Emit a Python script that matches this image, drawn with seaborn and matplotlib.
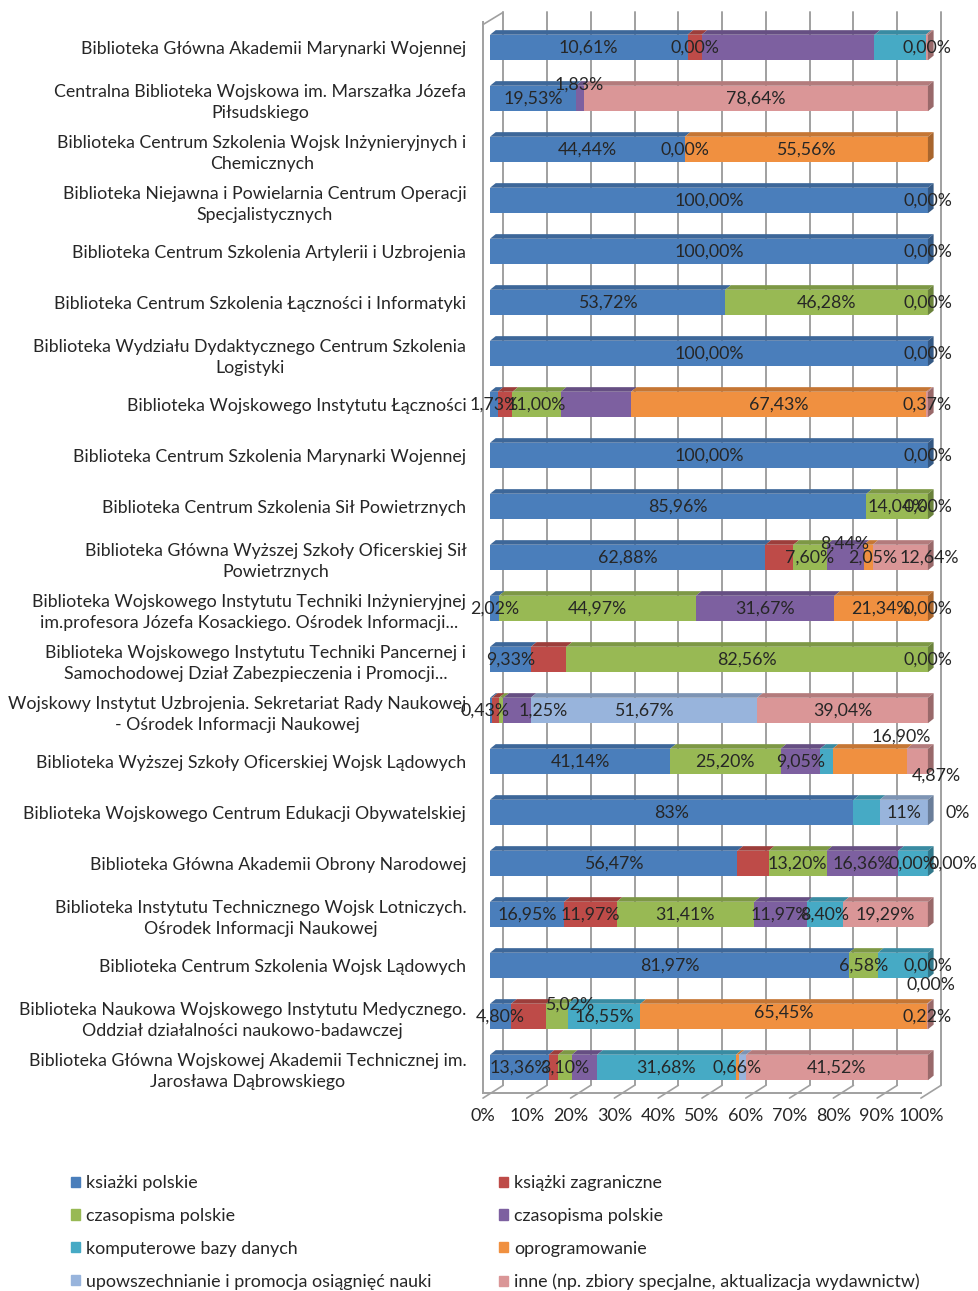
import numpy as np
import pandas as pd
import matplotlib.pyplot as plt
import matplotlib.colors as mcolors
from matplotlib.patches import Polygon, Patch
import seaborn as sns

categories = [
    "Biblioteka Główna Akademii Marynarki Wojennej",
    "Centralna Biblioteka Wojskowa im. Marszałka Józefa\nPiłsudskiego",
    "Biblioteka Centrum Szkolenia Wojsk Inżynieryjnych i\nChemicznych",
    "Biblioteka Niejawna i Powielarnia Centrum Operacji\nSpecjalistycznych",
    "Biblioteka Centrum Szkolenia Artylerii i Uzbrojenia",
    "Biblioteka Centrum Szkolenia Łączności i Informatyki",
    "Biblioteka Wydziału Dydaktycznego Centrum Szkolenia\nLogistyki",
    "Biblioteka Wojskowego Instytutu Łączności",
    "Biblioteka Centrum Szkolenia Marynarki Wojennej",
    "Biblioteka Centrum Szkolenia Sił Powietrznych",
    "Biblioteka Główna Wyższej Szkoły Oficerskiej Sił\nPowietrznych",
    "Biblioteka Wojskowego Instytutu Techniki Inżynieryjnej\nim.profesora Józefa Kosackiego. Ośrodek Informacji...",
    "Biblioteka Wojskowego Instytutu Techniki Pancernej i\nSamochodowej Dział Zabezpieczenia i Promocji...",
    "Wojskowy Instytut Uzbrojenia. Sekretariat Rady Naukowej\n- Ośrodek Informacji Naukowej",
    "Biblioteka Wyższej Szkoły Oficerskiej Wojsk Lądowych",
    "Biblioteka Wojskowego Centrum Edukacji Obywatelskiej",
    "Biblioteka Główna Akademii Obrony Narodowej",
    "Biblioteka Instytutu Technicznego Wojsk Lotniczych.\nOśrodek Informacji Naukowej",
    "Biblioteka Centrum Szkolenia Wojsk Lądowych",
    "Biblioteka Naukowa Wojskowego Instytutu Medycznego.\nOddział działalności naukowo-badawczej",
    "Biblioteka Główna Wojskowej Akademii Technicznej im.\nJarosława Dąbrowskiego",
]

series_names = [
    "ksiażki polskie", "książki zagraniczne", "czasopisma polskie", "czasopisma polskie",
    "komputerowe bazy danych", "oprogramowanie",
    "upowszechnianie i promocja osiągnięć nauki",
    "inne (np. zbiory specjalne, aktualizacja wydawnictw)",
]
colors = ["#4A7EBB", "#BE4B48", "#98B954", "#7D60A0", "#46AAC5", "#F09040", "#98B4DC", "#DA9697"]

# segment widths (share of 100%)
ksiazki_polskie = [45.1, 19.53, 44.44, 100, 100, 53.72, 100, 1.73, 100, 85.96, 62.88,
                   2.02, 9.33, 0.43, 41.14, 83, 56.47, 16.95, 81.97, 4.80, 13.36]
ksiazki_zagr = [3.2, 0, 0, 0, 0, 0, 0, 3.4, 0, 0, 6.39,
                0, 8.11, 1.6, 0, 0, 7.17, 11.97, 0, 7.96, 2.2]
czasopisma_pl = [0, 0, 0, 0, 0, 46.28, 0, 11.0, 0, 14.04, 7.60,
                 44.97, 82.56, 1.0, 25.20, 0, 13.20, 31.41, 6.58, 5.02, 3.10]
czasopisma_pl2 = [39.5, 1.83, 0, 0, 0, 0, 0, 16.07, 0, 0, 8.44,
                  31.67, 0, 6.26, 9.05, 0, 16.36, 11.97, 0, 0, 5.8]
bazy_danych = [11.7, 0, 0, 0, 0, 0, 0, 0, 0, 0, 0,
               0, 0, 0, 2.84, 6, 6.8, 8.40, 11.45, 16.55, 31.68]
oprogramowanie = [0, 0, 55.56, 0, 0, 0, 0, 67.43, 0, 0, 2.05,
                  21.34, 0, 0, 16.90, 0, 0, 0, 0, 65.45, 0.66]
upowszechnianie = [0, 0, 0, 0, 0, 0, 0, 0, 0, 0, 0,
                   0, 0, 51.67, 0, 11, 0, 0, 0, 0, 1.68]
inne = [0.5, 78.64, 0, 0, 0, 0, 0, 0.37, 0, 0, 12.64,
        0, 0, 39.04, 4.87, 0, 0, 19.29, 0, 0.22, 41.52]

# data labels as printed on the chart ('' = none)
lab_ksiazki_polskie = ["10,61%", "19,53%", "44,44%", "100,00%", "100,00%", "53,72%", "100,00%",
                       "1,73%", "100,00%", "85,96%", "62,88%", "2,02%", "9,33%", "0,43%",
                       "41,14%", "83%", "56,47%", "16,95%", "81,97%", "4,80%", "13,36%"]
lab_ksiazki_zagr = ["0,00%", "", "0,00%", "", "", "", "", "", "", "", "",
                    "", "", "", "", "", "", "11,97%", "", "", ""]
lab_czasopisma_pl = ["", "", "", "", "", "46,28%", "", "11,00%", "", "14,04%", "7,60%",
                     "44,97%", "82,56%", "", "25,20%", "", "13,20%", "31,41%", "6,58%", "5,02%", "3,10%"]
lab_czasopisma_pl2 = ["", "1,83%", "", "", "", "", "", "", "", "", "8,44%",
                      "31,67%", "", "1,25%", "9,05%", "", "16,36%", "11,97%", "", "", ""]
lab_bazy_danych = ["", "", "", "", "", "", "", "", "", "", "",
                   "", "", "", "", "", "0,00%", "8,40%", "", "16,55%", "31,68%"]
lab_oprogramowanie = ["", "", "55,56%", "", "", "", "", "67,43%", "", "", "2,05%",
                      "21,34%", "", "", "16,90%", "", "", "", "0,00%", "65,45%", "0,66%"]
lab_upowszechnianie = ["", "", "", "", "", "", "", "", "", "", "",
                       "", "", "51,67%", "", "11%", "", "", "", "", ""]
lab_inne = ["0,00%", "78,64%", "", "0,00%", "0,00%", "0,00%", "0,00%", "0,37%", "0,00%", "0,00%",
            "12,64%", "0,00%", "0,00%", "39,04%", "4,87%", "0%", "0,00%", "19,29%", "0,00%",
            "0,22%", "41,52%"]

# label nudges in pixels (bar index, series index) -> (dx, dy), dy up
label_nudge = {
    (1, 3): (0, 14), (10, 3): (0, 14), (10, 7): (29, 0), (10, 5): (5, 0),
    (13, 0): (-6, 0), (13, 3): (26, 0), (14, 5): (32, 25), (14, 7): (19, -14),
    (15, 7): (30, 0), (16, 7): (25, 0), (18, 7): (3, -19), (19, 2): (13, 12),
    (19, 5): (0, 4),
}

values = np.array([ksiazki_polskie, ksiazki_zagr, czasopisma_pl, czasopisma_pl2,
                   bazy_danych, oprogramowanie, upowszechnianie, inne]).T
labels = np.array([lab_ksiazki_polskie, lab_ksiazki_zagr, lab_czasopisma_pl, lab_czasopisma_pl2,
                   lab_bazy_danych, lab_oprogramowanie, lab_upowszechnianie, lab_inne]).T
cum = values.cumsum(axis=1)

sns.set_style("white")
plt.rcParams["font.family"] = ["Lato", "DejaVu Sans"]

DPI = 100
FS = 12.8
fig = plt.figure(figsize=(9.79, 12.91), dpi=DPI)
ax = fig.add_axes([483 / 979, 1 - 1093 / 1291, 462 / 979, (1093 - 22) / 1291])

X0 = -1.6
ax.set_xlim(X0, 103.9)
ax.set_ylim(20.6, -0.45)

# back wall grid + floor
grid_c = "#A0A0A0"
back = np.arange(0, 101, 10) + 3.0
front = np.arange(0, 101, 10) + X0
for b, f in zip(back, front):
    ax.plot([b, b], [-0.69, 20.35], color=grid_c, lw=1.4, zorder=0, clip_on=False)
    ax.plot([f, b], [20.6, 20.35], color=grid_c, lw=1.2, zorder=0, clip_on=False)
ax.plot([X0, 3.0], [-0.45, -0.69], color=grid_c, lw=1.2, zorder=0, clip_on=False)

# stacked bars: cumulative totals drawn back to front
for k in reversed(range(len(series_names))):
    df = pd.DataFrame({"cat": categories, "val": cum[:, k]})
    sns.barplot(data=df, x="val", y="cat", orient="h", order=categories, color=colors[k],
                saturation=1, width=0.5, ax=ax, zorder=2, linewidth=0)


def shade(c, f):
    r, g, b = mcolors.to_rgb(c)
    return (r * f, g * f, b * f)


# fake 3d top faces and end caps
dx, dy, h = 1.3, 0.09, 0.25
for i in range(len(categories)):
    left = 0.0
    last = 0
    for k in range(len(series_names)):
        v = values[i, k]
        if v > 0:
            r = left + v
            ax.add_patch(Polygon([(left, i - h), (r, i - h), (r + dx, i - h - dy), (left + dx, i - h - dy)],
                                 closed=True, color=shade(colors[k], 0.82), lw=0, zorder=2.5))
            last = k
        left += v
    ax.add_patch(Polygon([(left, i - h), (left, i + h), (left + dx, i + h - dy), (left + dx, i - h - dy)],
                         closed=True, color=shade(colors[last], 0.7), lw=0, zorder=2.5))

# data labels
for i in range(len(categories)):
    for k in range(len(series_names)):
        t = labels[i, k]
        if not t:
            continue
        xc = cum[i, k] - values[i, k] / 2
        ndx, ndy = label_nudge.get((i, k), (0, 0))
        ax.annotate(t, (xc, i), xytext=(ndx * 72 / DPI, ndy * 72 / DPI), textcoords="offset points",
                    ha="center", va="center", fontsize=FS, color="#262626", zorder=5,
                    annotation_clip=False)

# axes cosmetics
for s in ["top", "right"]:
    ax.spines[s].set_visible(False)
ax.spines["left"].set_color(grid_c)
ax.spines["bottom"].set_color(grid_c)
ax.spines["left"].set_linewidth(1.4)
ax.spines["bottom"].set_linewidth(1.4)
ax.spines["bottom"].set_bounds(X0, 100 + X0)
ax.set_xticks(front)
ax.set_xticklabels([f"{v}%" for v in range(0, 101, 10)], fontsize=13, color="#262626")
ax.tick_params(axis="x", length=5, color=grid_c, pad=6)
ax.set_yticks(range(len(categories)))
ax.set_yticklabels(categories, fontsize=FS, color="#262626", multialignment="center",
                   linespacing=1.42)
ax.tick_params(axis="y", length=0, pad=12)
ax.set_yticks(np.arange(0.5, 20.6, 1), minor=True)
ax.tick_params(axis="y", which="minor", length=5, color=grid_c)
ax.set_xlabel("")
ax.set_ylabel("")

# legend, two columns
handles = [Patch(color=c) for c in colors]
for col, xpx in enumerate([71, 499]):
    idx = range(col, len(series_names), 2)
    fig.legend([handles[j] for j in idx], [series_names[j] for j in idx], loc="upper left",
               bbox_to_anchor=(xpx / 979, 1 - 1175 / 1291), frameon=False, fontsize=12.9,
               handlelength=0.5, handleheight=0.5, handletextpad=0.35, labelspacing=0.94,
               borderpad=0, borderaxespad=0, labelcolor="#262626")

fig.savefig("out.png", dpi=DPI, facecolor="white")
